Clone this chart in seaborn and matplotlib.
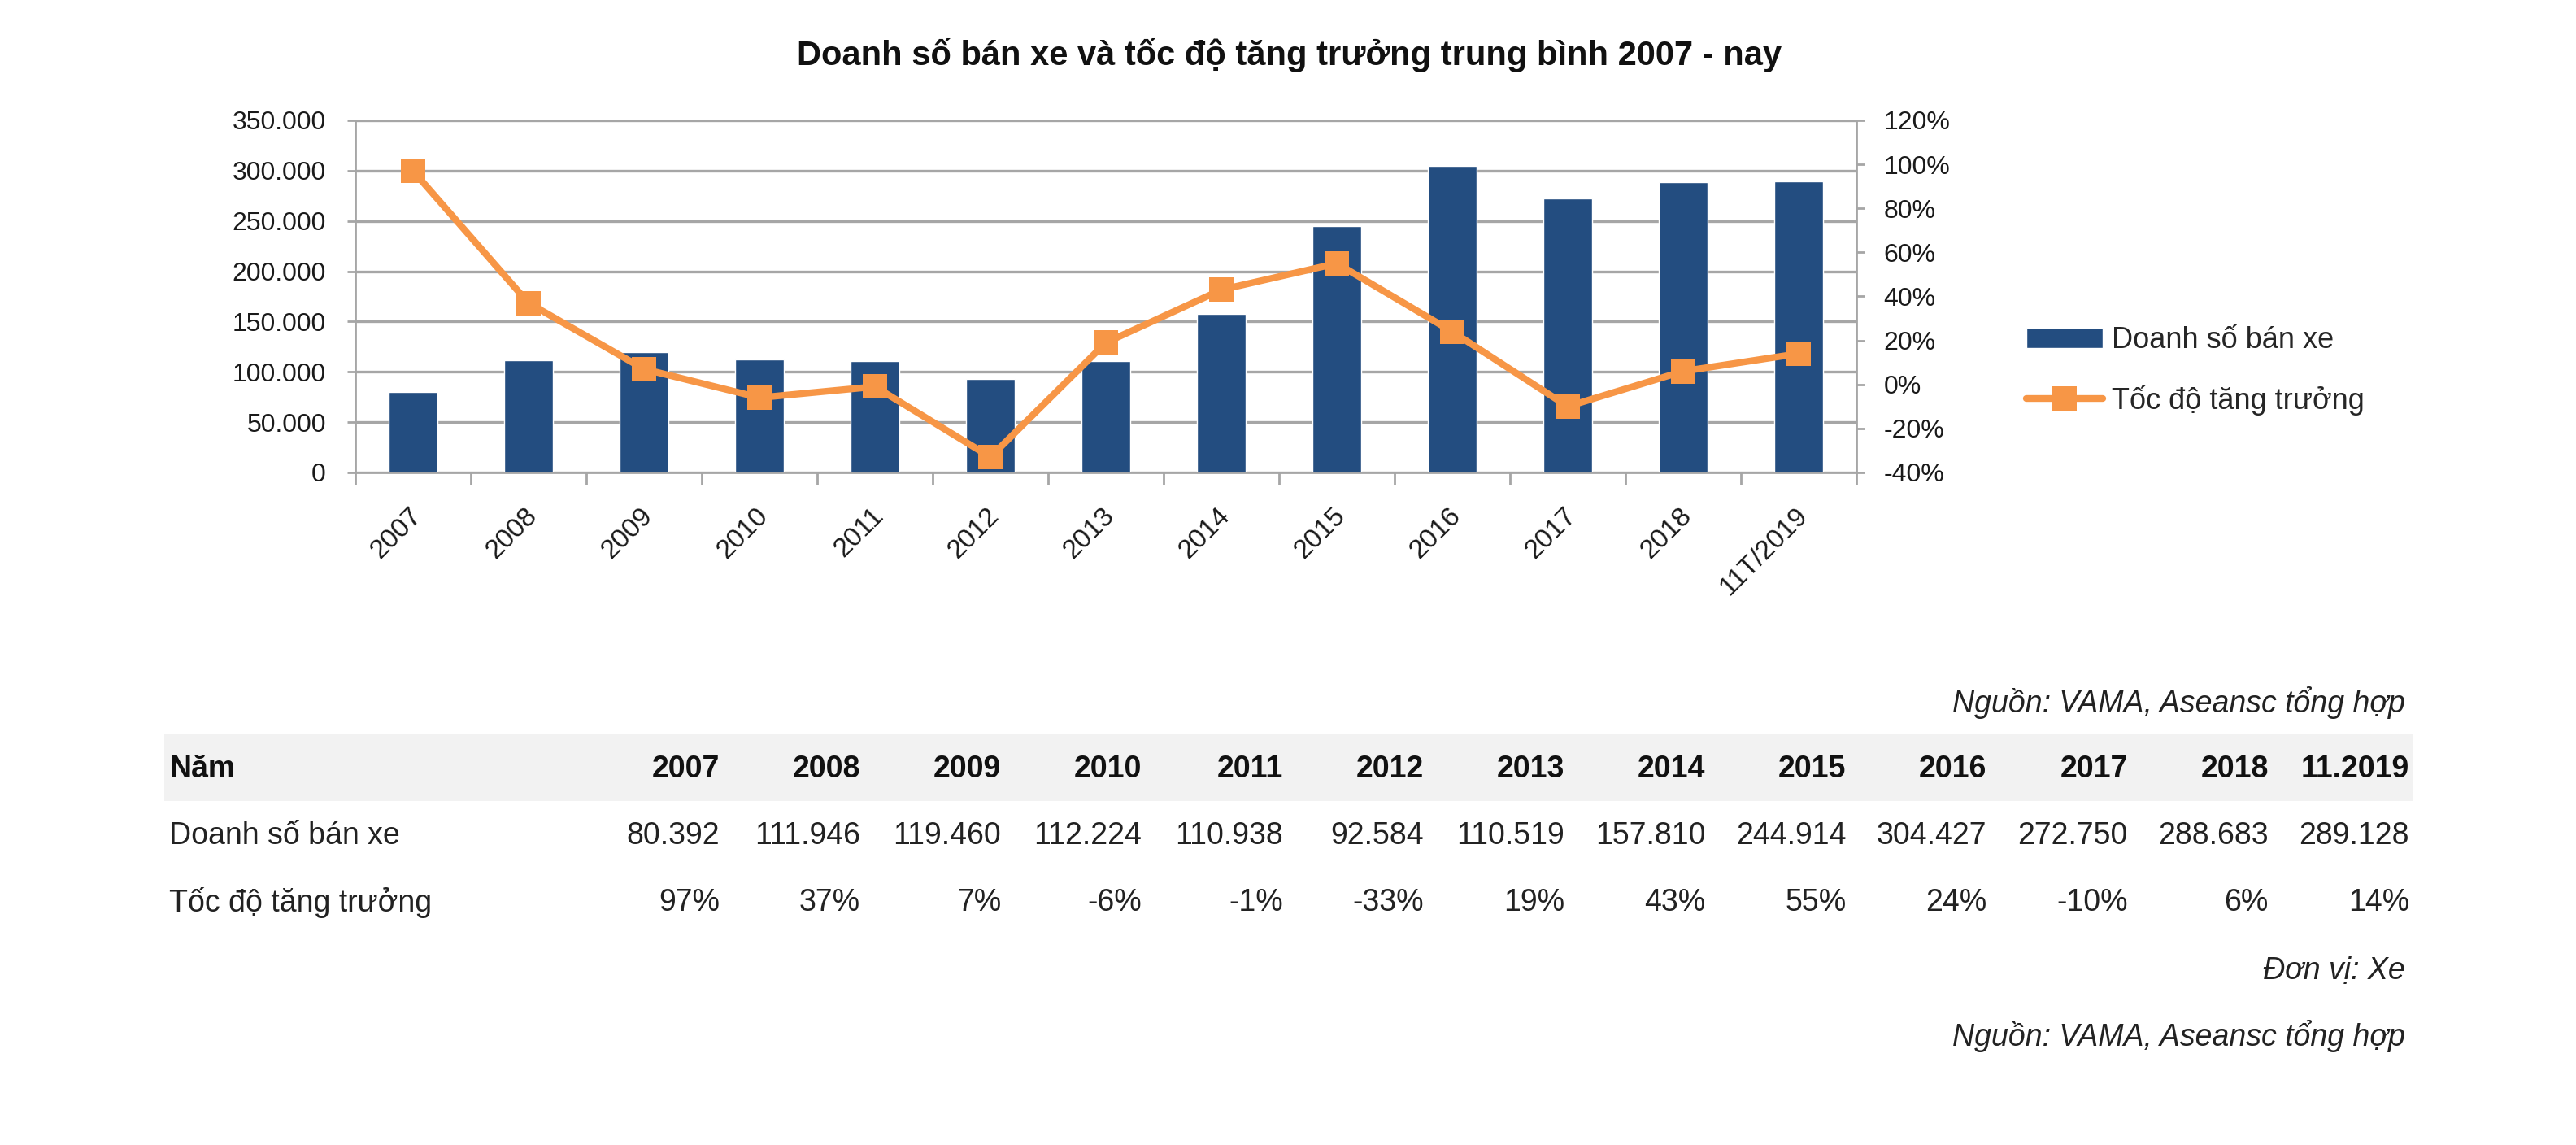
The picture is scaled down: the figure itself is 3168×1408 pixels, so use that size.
#=====IMPORT LIBRARIES=====
import matplotlib
matplotlib.use('Agg')
import matplotlib.pyplot as plt
import matplotlib.transforms as mtransforms
from matplotlib.patches import Rectangle
from matplotlib.ticker import FixedLocator, FuncFormatter
import seaborn as sns
import pandas as pd
import numpy as np

#=====DATA=====
years = ["2007", "2008", "2009", "2010", "2011", "2012", "2013",
         "2014", "2015", "2016", "2017", "2018", "11T/2019"]
table_years = ["2007", "2008", "2009", "2010", "2011", "2012", "2013",
               "2014", "2015", "2016", "2017", "2018", "11.2019"]
sales = [80392, 111946, 119460, 112224, 110938, 92584, 110519,
         157810, 244914, 304427, 272750, 288683, 289128]
growth = [97, 37, 7, -6, -1, -33, 19, 43, 55, 24, -10, 6, 14]

title = "Doanh số bán xe và tốc độ tăng trưởng trung bình 2007 - nay"
bar_name = "Doanh số bán xe"
line_name = "Tốc độ tăng trưởng"
source = "Nguồn: VAMA, Aseansc tổng hợp"
unit = "Đơn vị: Xe"

#=====STYLE=====
sns.set_style("white")
plt.rcParams['font.family'] = ['Liberation Sans', 'DejaVu Sans']
navy = "#234d80"
orange = "#f79646"
grey = "#a6a6a6"
W, H = 3168, 1408

def fx(px):
    return px / W

def fy(py):
    return 1 - py / H

fmt_int = lambda v: f"{int(v):,}".replace(",", ".")

fig = plt.figure(figsize=(W / 100, H / 100), dpi=100)
ax = fig.add_axes([fx(437), fy(581), fx(2283 - 437), (581 - 148) / H])

#=====BARS=====
df = pd.DataFrame({"year": years, "sales": sales, "growth": growth})
df["pos"] = np.arange(len(df))
sns.barplot(data=df, x="year", y="sales", color=navy, saturation=1,
            width=0.42, ax=ax)
ax.set_ylim(0, 350000)
ax.yaxis.set_major_locator(FixedLocator(np.arange(0, 350001, 50000)))
ax.yaxis.set_major_formatter(FuncFormatter(lambda v, p: fmt_int(v)))
ax.yaxis.grid(True, color=grey, lw=2.4)
ax.set_axisbelow(True)
ax.set_xlabel("")
ax.set_ylabel("")

#=====LINE=====
ax2 = ax.twinx()
sns.lineplot(data=df, x="pos", y="growth", ax=ax2, color=orange, lw=6,
             marker="s", markersize=22, markeredgewidth=0, legend=False)
ax2.set_ylim(-40, 120)
ax2.yaxis.set_major_locator(FixedLocator(np.arange(-40, 121, 20)))
ax2.yaxis.set_major_formatter(FuncFormatter(lambda v, p: f"{int(v)}%"))
ax2.set_ylabel("")
ax2.set_xlabel("")
ax.set_xlim(-0.5, len(years) - 0.5)

#=====AXES LOOK=====
for a in (ax, ax2):
    a.spines['top'].set_visible(False)
for s in ('left', 'bottom'):
    ax.spines[s].set_color(grey)
    ax.spines[s].set_linewidth(2)
ax.spines['right'].set_visible(False)
ax2.spines['left'].set_visible(False)
ax2.spines['bottom'].set_visible(False)
ax2.spines['right'].set_color(grey)
ax2.spines['right'].set_linewidth(2)

ax.tick_params(axis='y', length=7, width=2, color=grey, pad=19,
               labelsize=23, labelcolor="#1a1a1a", left=True)
ax2.tick_params(axis='y', length=7, width=2, color=grey, pad=17,
                labelsize=23, labelcolor="#1a1a1a", right=True)
ax.xaxis.set_minor_locator(FixedLocator(np.arange(-0.5, len(years), 1)))
ax.tick_params(axis='x', which='major', length=0, pad=27, labelsize=24,
               labelcolor="#1a1a1a")
ax.tick_params(axis='x', which='minor', length=11, width=2, color=grey,
               bottom=True)
offset = mtransforms.ScaledTranslation(-5 / 100, 0, fig.dpi_scale_trans)
for lbl in ax.get_xticklabels():
    lbl.set_rotation(45)
    lbl.set_ha('right')
    lbl.set_va('top')
    lbl.set_rotation_mode('anchor')
    lbl.set_transform(lbl.get_transform() + offset)

#=====LEGEND=====
fig.legend([ax.containers[0], ax2.lines[0]], [bar_name, line_name],
           loc='center left', bbox_to_anchor=(fx(2478), fy(456)),
           frameon=False, fontsize=26, handlelength=2.6, handletextpad=0.3,
           labelspacing=1.05, borderaxespad=0)

#=====TITLE=====
fig.text(fx(1586), fy(68), title, ha='center', va='center', fontsize=30,
         fontweight='bold', color="#111111")

#=====TABLE=====
fig.add_artist(Rectangle((fx(202), fy(985)), fx(2968 - 202), (985 - 903) / H,
                         transform=fig.transFigure, color="#f2f2f2", lw=0,
                         zorder=0))
col_x = [885 + i * (2963 - 885) / (len(table_years) - 1)
         for i in range(len(table_years))]
fs = 27
fig.text(fx(208), fy(946), "Năm", ha='left', va='center', fontsize=fs,
         fontweight='bold', color="#111111")
fig.text(fx(208), fy(1028), bar_name, ha='left', va='center', fontsize=fs,
         color="#222222")
fig.text(fx(208), fy(1110), line_name, ha='left', va='center', fontsize=fs,
         color="#222222")
for x, yr, v, g in zip(col_x, table_years, sales, growth):
    fig.text(fx(x), fy(946), yr, ha='right', va='center', fontsize=fs,
             fontweight='bold', color="#111111")
    fig.text(fx(x), fy(1028), fmt_int(v), ha='right', va='center',
             fontsize=fs, color="#222222")
    fig.text(fx(x), fy(1110), f"{g}%", ha='right', va='center',
             fontsize=fs, color="#222222")

fig.text(fx(2958), fy(864), source, ha='right', va='center', fontsize=fs,
         style='italic', color="#222222")
fig.text(fx(2958), fy(1194), unit, ha='right', va='center', fontsize=fs,
         style='italic', color="#222222")
fig.text(fx(2958), fy(1274), source, ha='right', va='center', fontsize=fs,
         style='italic', color="#222222")

fig.savefig("out.png", dpi=100, facecolor="white")
